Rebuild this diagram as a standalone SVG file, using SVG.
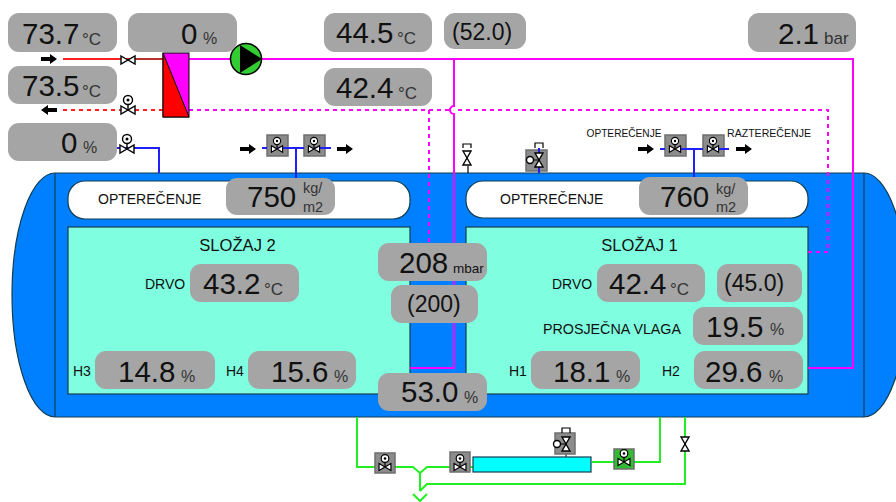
<svg xmlns="http://www.w3.org/2000/svg" width="896" height="502" viewBox="0 0 896 502">
<style>
text{font-family:"Liberation Sans",Arial,sans-serif;fill:#111}
.box{fill:#a5a5a5;stroke:none}
.big{font-size:29.5px}
.mid{font-size:23px}
.unit{font-size:17px;fill:#333}
.pct{font-size:16px;fill:#333}
.frac{font-size:14.5px;fill:#333}
.lab{font-size:14px}
.head{font-size:16.6px}
.tiny{font-size:10.3px}
.pipe{fill:none;stroke-width:2}
.mag{stroke:#ff00ff}
.magd{stroke:#ff00ff;stroke-dasharray:4 4}
.red{stroke:#ff2020}
.redd{stroke:#ff2020;stroke-dasharray:4 4}
.blue{stroke:#2020ff}
.green{stroke:#22ee22}
.vs{fill:#fff;stroke:#000;stroke-width:1.4}
.vbox{fill:#8c8c8c;stroke:#6f6f6f;stroke-width:1.5}
.panel{fill:#7fffdf;stroke:#143c50;stroke-width:1.2}
.wh{fill:#fff;stroke:#143c50;stroke-width:1.2}
.tank{fill:#0080ff;stroke:#143c50;stroke-width:1.2}
.thin{fill:none;stroke:#000;stroke-width:1.2}
</style>
<defs>
<symbol id="arrow" overflow="visible"><path d="M0-2H9V-5L16 0L9 5V2H0Z" fill="#000"/></symbol>
<g id="v"><path class="vs" d="M-7-4L7 4V-4L-7 4Z"/></g>
<g id="vh"><path class="vs" d="M-7-4L7 4V-4L-7 4Z"/><path d="M0 0V-6" stroke="#000" stroke-width="1.4" fill="none"/><circle cx="0" cy="-10" r="4.5" fill="#fff" stroke="#000" stroke-width="1.4"/><circle cx="0" cy="-10" r="1.5" fill="#000"/></g>
<g id="vt"><path class="vs" d="M-4-7L4 7H-4L4-7Z"/></g>
</defs>

<g id="tank">
<path class="tank" d="M55 173A43 122 0 0 0 55 417H864A43 122 0 0 0 864 173Z"/>
<path d="M55 173V417M864 173V417" stroke="#143c50" stroke-width="1.2" fill="none"/>
</g>

<g id="panels">
<rect class="panel" x="68" y="227" width="342" height="167"/>
<rect class="panel" x="466" y="227" width="342" height="167"/>
<rect class="wh" x="68" y="181" width="342" height="38" rx="17"/>
<rect class="wh" x="466" y="181" width="342" height="37" rx="17"/>
<text class="lab" x="98" y="204">OPTEREČENJE</text>
<text class="lab" x="500" y="204">OPTEREČENJE</text>
<text class="head" x="237.5" y="251" text-anchor="middle">SLOŽAJ 2</text>
<text class="head" x="639.5" y="251" text-anchor="middle">SLOŽAJ 1</text>
<text class="lab" x="145" y="289">DRVO</text>
<text class="lab" x="552" y="289">DRVO</text>
<text class="lab" x="543" y="334" textLength="138" lengthAdjust="spacingAndGlyphs">PROSJEČNA VLAGA</text>
<text class="lab" x="73" y="376">H3</text>
<text class="lab" x="226" y="376">H4</text>
<text class="lab" x="509" y="376">H1</text>
<text class="lab" x="662" y="376">H2</text>
</g>

<g id="connectors">
<path class="pipe red" d="M63 59H130"/>
<path class="pipe" stroke="#b83030" d="M130 59H163"/>
<path class="pipe redd" d="M63 110H163"/>
<path class="pipe mag" d="M189 59H853V368H808"/>
<path class="pipe magd" d="M189 110H450M458 110H828V252H808"/>
<path class="pipe mag" d="M454 59V106A4 4 0 0 0 454 114V368H410"/>
<path class="pipe magd" d="M429 110V243"/>
<path class="pipe blue" d="M117 148H159V173"/>
<path class="pipe blue" d="M296 148V178"/>
<path class="pipe blue" d="M694 149V177"/>
<path class="pipe blue" d="M539 148V173"/>
<path class="thin" d="M468 166V173"/>
<path class="pipe green" d="M357 417V467H413L420 473L427 467H473M592 462H660V417M685 417V484H427L420 491M420 473V491M413 494L420 501L427 494"/>
<path d="M566 443V457" stroke="#000" fill="none"/>
</g>

<g id="arrows">
<use href="#arrow" x="41" y="59"/>
<use href="#arrow" transform="translate(57 110) scale(-1 1)"/>
<use href="#arrow" x="240" y="149"/>
<use href="#arrow" x="337" y="149"/>
<use href="#arrow" x="638" y="149"/>
<use href="#arrow" x="736" y="149"/>
</g>

<g id="exchanger">
<rect x="163" y="53" width="26" height="64" fill="#ff00ff" stroke="#000"/>
<path d="M163 53L189 117H163Z" fill="#ff0000" stroke="#000"/>
</g>
<g id="pump">
<circle cx="246" cy="59" r="15.5" fill="#33cc33" stroke="#000" stroke-width="1.5"/>
<path d="M240 45L262 59L240 73Z" fill="#000"/>
</g>

<g id="valves">
<use href="#v" x="128" y="60"/>
<use href="#vh" x="128" y="110"/>
<use href="#vh" x="127" y="149"/>
<g id="v-a"><rect class="vbox" x="267" y="135" width="21" height="21"/><path class="pipe blue" d="M262 148H267M277 148H304"/><use href="#vh" transform="translate(277 149) scale(.8)"/></g>
<g id="v-b"><rect class="vbox" x="304" y="135" width="21" height="21"/><path class="pipe blue" d="M288 148H304M314 148H331"/><use href="#vh" transform="translate(314 149) scale(.8)"/></g>
<g id="v-c"><rect class="vbox" x="665" y="135" width="21" height="21"/><path class="pipe blue" d="M660 149H665M675 149H703"/><use href="#vh" transform="translate(675 149) scale(.8)"/></g>
<g id="v-d"><rect class="vbox" x="703" y="135" width="21" height="21"/><path class="pipe blue" d="M686 149H703M713 149H729"/><use href="#vh" transform="translate(713 149) scale(.8)"/></g>
<g id="v-e"><rect class="vbox" x="526" y="150" width="21" height="21"/><path d="M539 148V173" stroke="#2020ff" stroke-width="2"/><use href="#vt" x="539" y="160"/><circle cx="530" cy="160" r="3.5" fill="#fff" stroke="#000" stroke-width="1.4"/><path d="M534 160H539" stroke="#000"/></g>
<path class="thin" d="M535 148V143H543V148"/>
<g id="v-f"><use href="#vt" x="467" y="158"/><path class="thin" d="M463 148V144H471V148"/></g>
<g id="v-g"><rect class="vbox" x="375" y="453" width="20" height="20"/><use href="#vh" transform="translate(385 467) scale(.85)"/></g>
<g id="v-h"><rect class="vbox" x="450" y="452" width="20" height="20"/><use href="#vh" transform="translate(460 467) scale(.85)"/></g>
<g id="v-i"><rect x="614" y="449" width="20" height="20" fill="#33bb33" stroke="#6f6f6f" stroke-width="1.5"/><use href="#vh" transform="translate(624 462) scale(.85)"/></g>
<g id="v-j"><rect class="vbox" x="555" y="433" width="20" height="21"/><use href="#vt" x="566" y="444"/><circle cx="557" cy="444" r="3.5" fill="#fff" stroke="#000" stroke-width="1.4"/><path d="M561 444H566" stroke="#000"/><path class="thin" d="M562 433V428H570V433"/></g>
<g id="v-k"><use href="#vt" x="685" y="444"/></g>
<rect id="cyan-tank" x="473" y="457" width="118" height="15" fill="#00ffff" stroke="#143c50" stroke-width="1.2"/>
</g>

<g id="arrow-labels">
<text class="tiny" x="586.5" y="137" textLength="75" lengthAdjust="spacingAndGlyphs">OPTEREČENJE</text>
<text class="tiny" x="727" y="137" textLength="84" lengthAdjust="spacingAndGlyphs">RAZTEREČENJE</text>
</g>

<g id="b1"><rect class="box" x="8" y="13" width="109" height="39" rx="11"/><text class="big" x="22" y="44">73.7</text><text class="unit" x="82" y="45">°C</text></g>
<g id="b2"><rect class="box" x="128" y="13" width="109" height="39" rx="11"/><text class="big" x="181" y="44">0</text><text class="pct" x="203" y="44">%</text></g>
<g id="b3"><rect class="box" x="8" y="66" width="109" height="38" rx="11"/><text class="big" x="22" y="96">73.5</text><text class="unit" x="82" y="97">°C</text></g>
<g id="b4"><rect class="box" x="8" y="123" width="109" height="38" rx="11"/><text class="big" x="61" y="153">0</text><text class="pct" x="83" y="153">%</text></g>
<g id="b5"><rect class="box" x="324" y="13" width="108" height="39" rx="11"/><text class="big" x="336" y="43">44.5</text><text class="unit" x="397" y="44">°C</text></g>
<g id="b6"><rect class="box" x="444" y="13" width="82" height="36" rx="11"/><text class="mid" x="452" y="40">(52.0)</text></g>
<g id="b7"><rect class="box" x="748" y="13" width="108" height="39" rx="11"/><text class="big" x="778" y="44">2.1</text><text class="unit" x="824" y="44">bar</text></g>
<g id="b8"><rect class="box" x="324" y="68" width="108" height="38" rx="11"/><text class="big" x="336" y="98">42.4</text><text class="unit" x="398" y="99">°C</text></g>
<g id="b9"><rect class="box" x="226" y="178" width="109" height="37" rx="11"/><text class="big" x="247" y="207">750</text><text class="frac" x="303" y="193">kg/</text><text class="frac" x="303" y="212">m2</text></g>
<g id="b10"><rect class="box" x="639" y="177" width="109" height="38" rx="11"/><text class="big" x="660" y="207">760</text><text class="frac" x="716" y="194">kg/</text><text class="frac" x="716" y="212">m2</text></g>
<g id="b11"><rect class="box" x="190" y="264" width="109" height="38" rx="11"/><text class="big" x="203" y="294">43.2</text><text class="unit" x="264" y="295">°C</text></g>
<g id="b12"><rect class="box" x="597" y="264" width="108" height="38" rx="11"/><text class="big" x="609" y="294">42.4</text><text class="unit" x="670" y="295">°C</text></g>
<g id="b13"><rect class="box" x="717" y="264" width="85" height="38" rx="11"/><text class="mid" x="724" y="291">(45.0)</text></g>
<g id="b14"><rect class="box" x="693" y="307" width="110" height="38" rx="11"/><text class="big" x="706" y="337">19.5</text><text class="pct" x="770" y="335">%</text></g>
<g id="b15"><rect class="box" x="95" y="351" width="120" height="38" rx="11"/><text class="big" x="118" y="382">14.8</text><text class="pct" x="181" y="382">%</text></g>
<g id="b16"><rect class="box" x="248" y="351" width="108" height="38" rx="11"/><text class="big" x="271" y="382">15.6</text><text class="pct" x="334" y="382">%</text></g>
<g id="b17"><rect class="box" x="531" y="351" width="109" height="38" rx="11"/><text class="big" x="553" y="382">18.1</text><text class="pct" x="616" y="382">%</text></g>
<g id="b18"><rect class="box" x="694" y="351" width="109" height="38" rx="11"/><text class="big" x="705" y="382">29.6</text><text class="pct" x="769" y="382">%</text></g>
<g id="b19"><rect class="box" x="378" y="243" width="109" height="38" rx="11"/><text class="big" x="399" y="273">208</text><text x="453" y="273" font-size="13.5" fill="#333">mbar</text></g>
<g id="b20"><rect class="box" x="391" y="285" width="87" height="38" rx="11"/><text class="mid" x="407" y="312">(200)</text></g>
<g id="b21"><rect class="box" x="378" y="373" width="109" height="38" rx="11"/><text class="big" x="401" y="402">53.0</text><text class="pct" x="464" y="403">%</text></g>
</svg>
